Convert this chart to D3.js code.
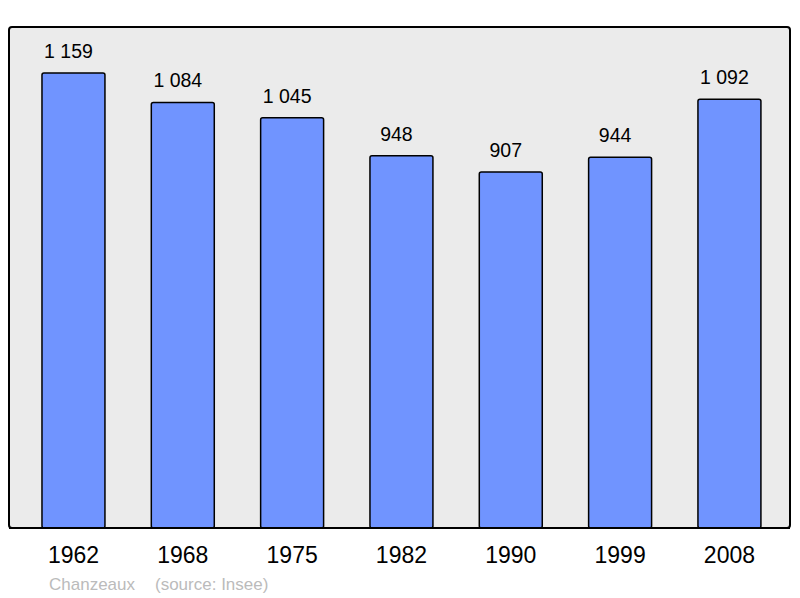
<!DOCTYPE html>
<html lang="fr">
<head>
    <meta charset="UTF-8">
    <title>Chanzeaux</title>
    <style>
        body { margin: 0; background: #fff; }
        svg { display: block; font-family: "Liberation Sans", Arial, sans-serif; }
    </style>
</head>
<body>
    <div id="wrapper"></div>
    <script src="https://d3js.org/d3.v7.min.js"></script>
    <script>
        // données
        const years = ['1962', '1968', '1975', '1982', '1990', '1999', '2008'];
        const population = [1159, 1084, 1045, 948, 907, 944, 1092];
        const valueLabels = ['1 159', '1 084', '1 045', '948', '907', '944', '1 092'];
        const commune = 'Chanzeaux';
        const source = '(source: Insee)';

        const width = 800;
        const height = 598;

        // cadre gris
        const panel = { left: 9, top: 27, right: 790, bottom: 528 };

        const svg = d3.select('#wrapper').append('svg')
            .attr('width', width)
            .attr('height', height);

        svg.append('rect')
            .attr('x', panel.left)
            .attr('y', panel.top)
            .attr('width', panel.right - panel.left)
            .attr('height', panel.bottom - panel.top)
            .attr('rx', 3)
            .attr('fill', '#ebebeb')
            .attr('stroke', '#000')
            .attr('stroke-width', 2);

        const x = d3.scaleBand()
            .domain(years)
            .range([18.8, 784.1])
            .paddingInner(0.424)
            .paddingOuter(0.212);

        const y = d3.scaleLinear()
            .domain([0, 1276])
            .range([panel.bottom, panel.top]);

        // barres
        svg.selectAll('rect.bar')
            .data(population)
            .enter()
            .append('rect')
            .attr('class', 'bar')
            .attr('x', (d, i) => x(years[i]))
            .attr('y', d => y(d))
            .attr('width', x.bandwidth())
            .attr('height', d => panel.bottom - y(d))
            .attr('rx', 2)
            .attr('fill', '#7094ff')
            .attr('stroke', '#000')
            .attr('stroke-width', 1.5);

        // ligne du bas par-dessus les barres
        svg.append('line')
            .attr('x1', panel.left)
            .attr('x2', panel.right)
            .attr('y1', panel.bottom)
            .attr('y2', panel.bottom)
            .attr('stroke', '#000')
            .attr('stroke-width', 2);

        // valeurs au-dessus des barres (un peu décalées à gauche comme l'original)
        svg.selectAll('text.value')
            .data(population)
            .enter()
            .append('text')
            .attr('class', 'value')
            .attr('x', (d, i) => x(years[i]) + x.bandwidth() / 2 - 5)
            .attr('y', d => y(d) - 15)
            .attr('text-anchor', 'middle')
            .attr('font-size', '19.5px')
            .attr('fill', '#000')
            .text((d, i) => valueLabels[i]);

        // axe des années
        const xAxis = svg.append('g')
            .attr('transform', `translate(0, ${panel.bottom})`)
            .call(d3.axisBottom(x).tickSize(0).tickPadding(19));
        xAxis.select('.domain').remove();
        xAxis.selectAll('text')
            .attr('font-size', '23px')
            .attr('font-family', '"Liberation Sans", Arial, sans-serif')
            .attr('fill', '#000');

        // source
        svg.append('text')
            .attr('x', 49)
            .attr('y', 590)
            .attr('font-size', '17px')
            .attr('fill', '#bbb')
            .text(commune);
        svg.append('text')
            .attr('x', 155)
            .attr('y', 590)
            .attr('font-size', '17px')
            .attr('fill', '#bbb')
            .text(source);
    </script>
</body>
</html>
